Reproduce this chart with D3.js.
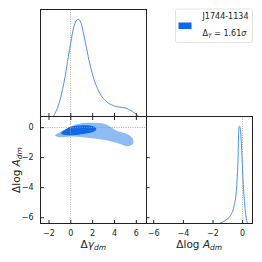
<!DOCTYPE html>
<html><head><meta charset="utf-8">
<script src="https://cdn.jsdelivr.net/npm/d3@7"></script>
<style>html,body{margin:0;padding:0;background:#fff}svg{display:block;font-family:"DejaVu Sans",sans-serif}</style>
</head><body>
<script>
// ---- data ----
const gammaTicks = [-2, 0, 2, 4, 6];
const logATicks = [-6, -4, -2, 0];
const gammaGrid = [-1.55, -0.94, -0.48, -0.18, 0.03, 0.33, 0.73, 1.03, 1.33, 1.64, 2.09, 2.7, 3.3, 4.2, 5.1, 5.7, 6.3];
const gammaDensity = [0, 0.171, 0.41, 0.616, 0.753, 0.924, 1.0, 0.942, 0.787, 0.616, 0.41, 0.239, 0.154, 0.103, 0.086, 0.051, 0];
const logAGrid = [-1.57, -1.12, -0.78, -0.56, -0.37, -0.28, -0.22, -0.17, -0.05, 0.05, 0.17, 0.28, 0.39];
const logADensity = [0, 0.034, 0.085, 0.171, 0.377, 0.65, 0.99, 1.0, 0.82, 0.48, 0.2, 0.05, 0];
const outerGamma = [-1.39, -0.64, 0.27, 1.18, 2.4, 3.3, 4.2, 5.13, 5.73, 5.73, 5.27, 4.5, 3.6, 2.4, 1.18, -0.03, -0.94];
const outerLogA  = [-0.55, -0.22, 0.11, 0.27, 0.29, 0.18, -0.22, -0.44, -0.78, -1.11, -1.27, -1.11, -0.93, -0.78, -0.67, -0.62, -0.67];
const innerGamma = [-0.85, -0.39, 0.15, 0.88, 1.79, 2.25, 2.38, 2.06, 1.43, 0.52, -0.39, -0.8];
const innerLogA  = [-0.39, -0.12, 0.05, 0.11, 0.11, 0.01, -0.15, -0.32, -0.42, -0.52, -0.52, -0.45];
const legendName = "J1744-1134";
const legendSigma = "1.61";

// ---- layout ----
const W = 262, H = 262;
const L = 40.5, M = 146, R = 252.5, T = 9.5, MY = 116.5, B = 223.5;
const lineColor = "#4a90ee", outerColor = "#8cbcf2", innerColor = "#1268e6", frame = "#222";

const xG = d3.scaleLinear([-2.73, 6.93], [L, M]);
const yA = d3.scaleLinear([-6.42, 0.71], [B, MY]);
const xA = d3.scaleLinear([-6.49, 0.70], [M, R]);
const yTop = d3.scaleLinear([0, 1.1], [MY, T]);
const yBR = d3.scaleLinear([0, 1.1], [B, MY]);

const svg = d3.select("body").append("svg").attr("width", W).attr("height", H);

// clip paths
const defs = svg.append("defs");
defs.append("clipPath").attr("id","cTop").append("rect").attr("x",L).attr("y",T).attr("width",M-L).attr("height",MY-T);
defs.append("clipPath").attr("id","cBL").append("rect").attr("x",L).attr("y",MY).attr("width",M-L).attr("height",B-MY);
defs.append("clipPath").attr("id","cBR").append("rect").attr("x",M).attr("y",MY).attr("width",R-M).attr("height",B-MY);

const dotted = (g, x1, y1, x2, y2) => g.append("line").attr("x1",x1).attr("y1",y1).attr("x2",x2).attr("y2",y2)
  .attr("stroke","#999").attr("stroke-width",0.8).attr("stroke-dasharray","1,1.3");

// ---- top panel: 1D gamma ----
const gTop = svg.append("g").attr("clip-path","url(#cTop)");
dotted(gTop, Math.round(xG(0))+0.5, T, Math.round(xG(0))+0.5, MY);
gTop.append("path").datum(gammaGrid.map((x,i)=>[x, gammaDensity[i]]))
  .attr("d", d3.line().x(d=>xG(d[0])).y(d=>yTop(d[1])).curve(d3.curveMonotoneX))
  .attr("fill","none").attr("stroke",lineColor).attr("stroke-width",1);

// ---- bottom-left: 2D contours ----
const gBL = svg.append("g").attr("clip-path","url(#cBL)");
const closed = d3.line().x(d=>xG(d[0])).y(d=>yA(d[1])).curve(d3.curveCatmullRomClosed.alpha(0.5));
gBL.append("path").datum(outerGamma.map((x,i)=>[x, outerLogA[i]])).attr("d", closed).attr("fill", outerColor);
gBL.append("path").datum(innerGamma.map((x,i)=>[x, innerLogA[i]])).attr("d", closed).attr("fill", innerColor);
dotted(gBL, Math.round(xG(0))+0.5, MY, Math.round(xG(0))+0.5, B);
dotted(gBL, L, Math.round(yA(0))+0.5, M, Math.round(yA(0))+0.5);

// ---- bottom-right: 1D logA ----
const gBR = svg.append("g").attr("clip-path","url(#cBR)");
dotted(gBR, Math.round(xA(0))+0.5, MY, Math.round(xA(0))+0.5, B);
gBR.append("path").datum(logAGrid.map((x,i)=>[x, logADensity[i]]))
  .attr("d", d3.line().x(d=>xA(d[0])).y(d=>yBR(d[1])).curve(d3.curveMonotoneX))
  .attr("fill","none").attr("stroke",lineColor).attr("stroke-width",1);

// ---- frames ----
const fr = svg.append("g").attr("fill","none").attr("stroke",frame).attr("stroke-width",1).attr("shape-rendering","crispEdges");
fr.append("rect").attr("x",L).attr("y",T).attr("width",M-L).attr("height",MY-T);
fr.append("rect").attr("x",L).attr("y",MY).attr("width",M-L).attr("height",B-MY);
fr.append("rect").attr("x",M).attr("y",MY).attr("width",R-M).attr("height",B-MY);

// ---- axes (ticks inward) ----
const tl = 3.5;
// bottom-left x axis
svg.append("g").attr("transform",`translate(0,${B})`)
  .call(d3.axisBottom(xG).tickValues(gammaTicks).tickSizeInner(-tl).tickSizeOuter(0).tickPadding(7).tickFormat(d=>d<0?"\u2212"+Math.abs(d):d))
  .call(g=>g.select(".domain").remove());
// bottom-left top ticks (pointing down)
svg.append("g").attr("transform",`translate(0,${MY})`)
  .call(d3.axisTop(xG).tickValues(gammaTicks).tickSizeInner(-tl).tickSizeOuter(0).tickFormat(""))
  .call(g=>g.select(".domain").remove());
// top panel bottom ticks (pointing up)
svg.append("g").attr("transform",`translate(0,${MY})`)
  .call(d3.axisBottom(xG).tickValues(gammaTicks).tickSizeInner(-tl).tickSizeOuter(0).tickFormat(""))
  .call(g=>g.select(".domain").remove());
// bottom-left y axis
svg.append("g").attr("transform",`translate(${L},0)`)
  .call(d3.axisLeft(yA).tickValues(logATicks).tickSizeInner(-tl).tickSizeOuter(0).tickPadding(7).tickFormat(d=>d<0?"\u2212"+Math.abs(d):d))
  .call(g=>g.select(".domain").remove());
// bottom-right left ticks (pointing right)
svg.append("g").attr("transform",`translate(${M},0)`)
  .call(d3.axisLeft(yA).tickValues(logATicks.filter(d=>d<0)).tickSizeInner(-tl).tickSizeOuter(0).tickFormat(""))
  .call(g=>g.select(".domain").remove());
// bottom-right x axis
svg.append("g").attr("transform",`translate(0,${B})`)
  .call(d3.axisBottom(xA).tickValues(logATicks).tickSizeInner(-tl).tickSizeOuter(0).tickPadding(7).tickFormat(d=>d<0?"\u2212"+Math.abs(d):d))
  .call(g=>g.select(".domain").remove());

svg.selectAll(".tick line").attr("stroke",frame);
svg.selectAll(".tick text").attr("font-size",8).attr("fill","#222").attr("font-family","DejaVu Sans");

// ---- axis labels ----
const lab1 = svg.append("text").attr("x",(L+M)/2).attr("y",248).attr("text-anchor","middle").attr("font-size",10.5).attr("fill","#222");
lab1.append("tspan").text("\u0394");
lab1.append("tspan").attr("font-style","italic").text("\u03b3");
lab1.append("tspan").attr("font-style","italic").attr("font-size",7.5).attr("dy",2).text("dm");

const mkLogA = (sel) => {
  sel.append("tspan").text("\u0394log ");
  sel.append("tspan").attr("font-style","italic").text("A");
  sel.append("tspan").attr("font-style","italic").attr("font-size",7.5).attr("dy",2).text("dm");
};
mkLogA(svg.append("text").attr("x",(M+R)/2).attr("y",248).attr("text-anchor","middle").attr("font-size",10.5).attr("fill","#222"));
mkLogA(svg.append("text").attr("transform",`translate(20,${(MY+B)/2}) rotate(-90)`).attr("text-anchor","middle").attr("font-size",10.5).attr("fill","#222"));

// ---- legend ----
const lg = svg.append("g");
lg.append("rect").attr("x",175.5).attr("y",9).attr("width",77).attr("height",33.5).attr("rx",2)
  .attr("fill","#fff").attr("stroke","#ddd").attr("stroke-width",0.8);
lg.append("rect").attr("x",178.5).attr("y",22.5).attr("width",13).attr("height",6.5).attr("fill","#0f67ea");
lg.append("text").attr("x",202.5).attr("y",19).attr("font-size",8).attr("fill","#222").text(legendName);
const lt = lg.append("text").attr("x",202.5).attr("y",36).attr("font-size",8).attr("fill","#222");
lt.append("tspan").text("\u0394");
lt.append("tspan").attr("font-style","italic").attr("font-size",6).attr("dy",1.5).text("T");
lt.append("tspan").attr("dy",-1.5).text(" = " + legendSigma);
lt.append("tspan").attr("font-style","italic").text("\u03c3");
</script>
</body></html>
